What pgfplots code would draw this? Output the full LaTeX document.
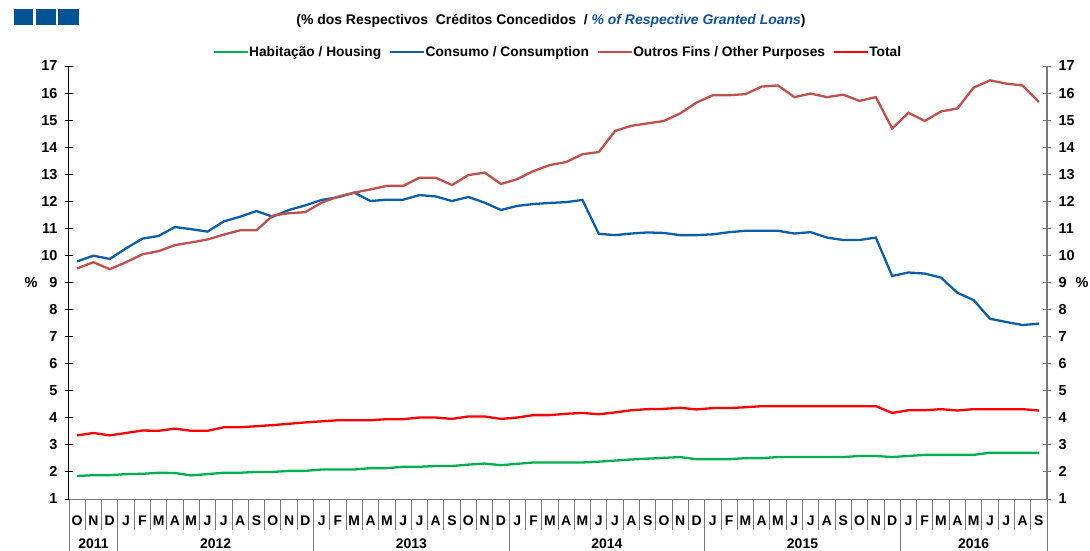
\documentclass[border=0pt]{standalone}
\usepackage{pgfplots}
\usepackage{pgfplotstable}
\pgfplotsset{compat=1.18}
\usepackage{fontspec}
\setmainfont{Liberation Sans}
\definecolor{cgreen}{RGB}{0,176,80}
\definecolor{cblue}{RGB}{12,94,166}
\definecolor{cout}{RGB}{192,80,77}
\definecolor{cred}{RGB}{255,0,0}
\definecolor{logo}{RGB}{0,84,150}
\definecolor{titleblue}{RGB}{16,80,150}
\definecolor{axgray}{RGB}{120,120,120}

\pgfplotstableread{
i hab con out tot
0 1.85 9.78 9.52 3.35
1 1.88 9.99 9.75 3.44
2 1.88 9.87 9.49 3.35
3 1.92 10.26 9.75 3.44
4 1.93 10.62 10.04 3.53
5 1.97 10.72 10.16 3.52
6 1.96 11.05 10.38 3.60
7 1.87 10.97 10.48 3.52
8 1.92 10.88 10.59 3.52
9 1.97 11.26 10.77 3.65
10 1.97 11.43 10.93 3.65
11 2.00 11.64 10.93 3.69
12 2.00 11.43 11.47 3.73
13 2.04 11.68 11.56 3.78
14 2.04 11.85 11.60 3.83
15 2.09 12.05 11.95 3.87
16 2.09 12.15 12.17 3.91
17 2.09 12.32 12.32 3.91
18 2.14 12.01 12.44 3.91
19 2.14 12.06 12.57 3.95
20 2.19 12.06 12.57 3.95
21 2.19 12.23 12.87 4.01
22 2.22 12.18 12.87 4.01
23 2.22 12.01 12.60 3.96
24 2.27 12.16 12.97 4.05
25 2.31 11.95 13.06 4.05
26 2.25 11.68 12.64 3.96
27 2.30 11.83 12.82 4.01
28 2.35 11.90 13.12 4.10
29 2.35 11.94 13.34 4.10
30 2.35 11.97 13.45 4.15
31 2.35 12.05 13.74 4.18
32 2.38 10.80 13.82 4.13
33 2.42 10.75 14.60 4.20
34 2.46 10.81 14.79 4.28
35 2.49 10.85 14.88 4.32
36 2.52 10.83 14.97 4.33
37 2.55 10.75 15.25 4.37
38 2.47 10.75 15.65 4.31
39 2.47 10.78 15.92 4.36
40 2.47 10.86 15.92 4.36
41 2.51 10.91 15.96 4.39
42 2.51 10.91 16.24 4.43
43 2.55 10.91 16.28 4.43
44 2.55 10.81 15.85 4.43
45 2.55 10.86 15.98 4.43
46 2.55 10.66 15.85 4.43
47 2.55 10.57 15.94 4.43
48 2.59 10.57 15.71 4.43
49 2.59 10.66 15.85 4.43
50 2.55 9.24 14.69 4.18
51 2.59 9.37 15.27 4.28
52 2.63 9.33 14.97 4.28
53 2.63 9.18 15.32 4.32
54 2.63 8.62 15.43 4.27
55 2.63 8.35 16.20 4.32
56 2.71 7.66 16.47 4.32
57 2.71 7.54 16.35 4.32
58 2.71 7.43 16.28 4.32
59 2.71 7.48 15.67 4.27
}\data

\pgfplotsset{
  base/.style={at={(0,0)}, anchor=south west, scale only axis,
    width=978bp, height=433bp, xmin=-0.5, xmax=59.5, ymin=1, ymax=17,
    axis line style={-},
    /pgf/number format/assume math mode=true},
}

\begin{document}
\begin{tikzpicture}[font=\fontsize{14}{16}\selectfont\bfseries]
\useasboundingbox (-69bp,-52bp) rectangle (1021bp,499bp);

% month separators
\begin{axis}[base, axis y line=none, axis x line*=bottom,
  x axis line style={axgray, line width=1bp},
  xtick={-0.5,0.5,...,59.5}, xticklabels={}, tick align=outside,
  major tick length=31bp, xtick style={axgray, line width=0.9bp}]
\end{axis}

% year separators
\begin{axis}[base, axis y line=none, axis x line*=bottom,
  x axis line style={axgray, line width=1bp},
  xtick={-0.5,2.5,14.5,26.5,38.5,50.5,59.5}, xticklabels={}, tick align=outside,
  major tick length=52bp, xtick style={axgray, line width=0.9bp}]
\end{axis}

% year labels
\begin{axis}[base, axis y line=none, axis x line*=bottom,
  x axis line style={draw=none},
  xtick={1,8.5,20.5,32.5,44.5,55},
  xticklabels={2011,2012,2013,2014,2015,2016},
  xtick style={draw=none}, major tick length=0pt,
  xticklabel style={yshift=-36bp, font=\fontsize{14}{16}\selectfont\bfseries}]
\end{axis}

% right axis
\begin{axis}[base, axis x line=none, axis y line*=right,
  y axis line style={axgray, line width=1.2bp},
  ytick={1,...,17}, tick align=center, major tick length=8bp,
  ytick style={axgray, line width=0.9bp},
  yticklabel style={xshift=4bp, font=\fontsize{14.5}{16}\selectfont\bfseries},
  clip=false]
\node[anchor=west, font=\fontsize{14.5}{16}\selectfont\bfseries] at (rel axis cs:1,0.5) [xshift=25bp] {\%};
\end{axis}

% main axis
\begin{axis}[base, axis x line*=bottom, axis y line*=left,
  x axis line style={axgray, line width=1bp},
  y axis line style={black, line width=1bp},
  xtick={0,...,59},
  xticklabels={O,N,D,J,F,M,A,M,J,J,A,S,O,N,D,J,F,M,A,M,J,J,A,S,O,N,D,J,F,M,A,M,J,J,A,S,O,N,D,J,F,M,A,M,J,J,A,S,O,N,D,J,F,M,A,M,J,J,A,S},
  xtick style={draw=none},
  xticklabel style={yshift=-9.5bp, font=\fontsize{14}{16}\selectfont\bfseries},
  ytick={1,...,17}, tick align=center, major tick length=8bp,
  ytick style={black, line width=0.9bp},
  yticklabel style={xshift=-4bp, font=\fontsize{14.5}{16}\selectfont\bfseries},
  clip=false,
  legend style={at={(0.5,1)}, anchor=south, yshift=4bp, draw=none, fill=none,
    legend columns=4, font=\fontsize{13.8}{15}\selectfont\bfseries,
    /tikz/every even column/.append style={column sep=6bp},
    /tikz/every odd column/.append style={column sep=-2bp}},
  legend image code/.code={\draw[#1] (0bp,0bp) -- (34bp,0bp);},
]
\addplot[cgreen, line width=2.3bp] table[x=i, y=hab] {\data};
\addlegendentry{Habitação / Housing}
\addplot[cblue, line width=2.3bp] table[x=i, y=con] {\data};
\addlegendentry{Consumo / Consumption}
\addplot[cout, line width=2.3bp] table[x=i, y=out] {\data};
\addlegendentry{Outros Fins / Other Purposes}
\addplot[cred, line width=2.3bp] table[x=i, y=tot] {\data};
\addlegendentry{Total}
\node[anchor=east, font=\fontsize{14.5}{16}\selectfont\bfseries] at (rel axis cs:0,0.5) [xshift=-28bp] {\%};
\end{axis}

% logo squares
\fill[logo] (-55bp,474bp) rectangle (-36bp,490bp);
\fill[logo] (-33bp,474bp) rectangle (-13bp,490bp);
\fill[logo] (-11bp,474bp) rectangle (10bp,490bp);

% subtitle
\node[font=\fontsize{14}{15}\selectfont\bfseries] at (482bp,478bp)
  {(\% dos Respectivos\ \ Créditos Concedidos\ \ / \textcolor{titleblue}{\itshape\% of Respective Granted Loans})};
\end{tikzpicture}
\end{document}
